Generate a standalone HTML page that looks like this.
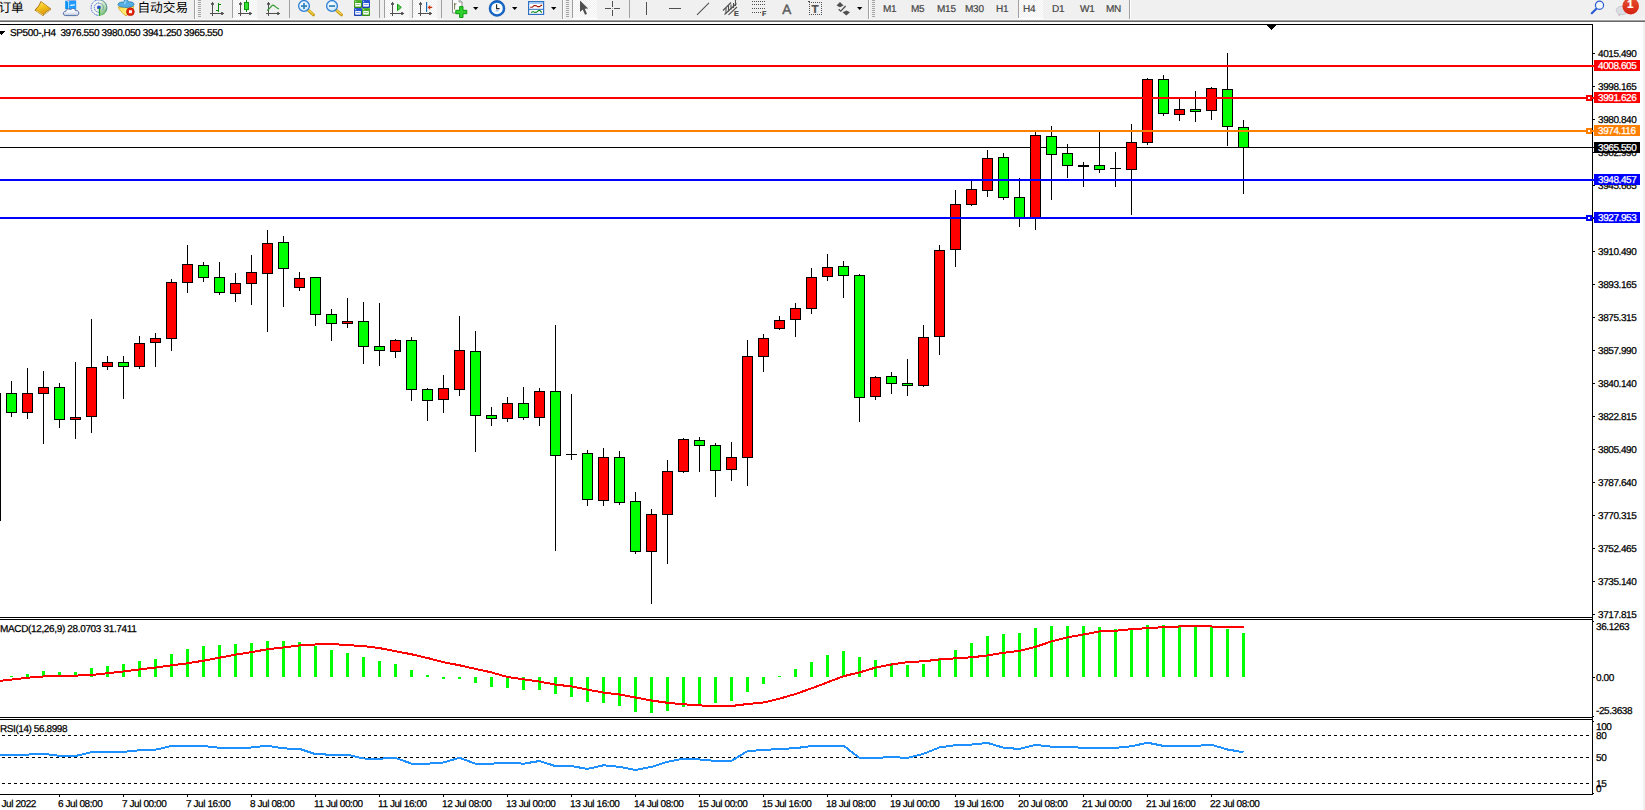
<!DOCTYPE html>
<html lang="zh-CN">
<head>
<meta charset="utf-8">
<title>SP500-,H4</title>
<style>
html,body{margin:0;padding:0;background:#fff;}
body{width:1645px;height:810px;overflow:hidden;position:relative;font-family:"Liberation Sans","Noto Sans CJK SC",sans-serif;}
#app{position:absolute;left:0;top:0;width:1645px;height:810px;overflow:hidden;background:#fff;}
.chart{position:absolute;left:0;top:0;}
.t{position:absolute;font-size:10px;line-height:12px;height:12px;letter-spacing:-0.42px;text-rendering:geometricPrecision;-webkit-text-stroke:0.25px currentColor;color:#000;white-space:nowrap;}
.t.w{color:#fff;}
.bx{position:absolute;left:1594px;width:46px;height:11px;}
#tb{position:absolute;left:0;top:0;width:1645px;height:22px;background:#f0f0f0;overflow:hidden;}
#tb .ln0{position:absolute;left:0;top:19px;width:1645px;height:1px;background:#f7f7f7;}
#tb .ln1{position:absolute;left:0;top:20px;width:1645px;height:1px;background:#a0a0a0;}
#tb .ln2{position:absolute;left:0;top:21px;width:1645px;height:1px;background:#696969;}
#tb .cj{position:absolute;top:0px;font-size:12.7px;text-rendering:geometricPrecision;line-height:17px;color:#000;white-space:nowrap;font-family:"Liberation Sans","Noto Sans CJK SC",sans-serif;}
#tb .tf{position:absolute;top:3px;font-size:10px;line-height:13px;color:#444;white-space:nowrap;letter-spacing:-0.25px;text-rendering:geometricPrecision;-webkit-text-stroke:0.2px currentColor;}
#rs{position:absolute;left:1643px;top:22px;width:2px;height:788px;background:#f0f0f0;}
#tbsvg{position:absolute;left:0;top:0;}
</style>
</head>
<body>
<div id="app">
<svg class="chart" width="1645" height="810" viewBox="0 0 1645 810" shape-rendering="crispEdges">
<rect x="0" y="147" width="1594" height="1" fill="#000"/>
<rect x="0" y="393" width="1" height="128" fill="#000"/>
<rect x="11" y="381" width="1" height="36" fill="#000"/>
<rect x="6" y="393" width="11" height="20" fill="#000"/>
<rect x="7" y="394" width="9" height="18" fill="#0f0"/>
<rect x="27" y="368" width="1" height="51" fill="#000"/>
<rect x="22" y="393" width="11" height="20" fill="#000"/>
<rect x="23" y="394" width="9" height="18" fill="#f00"/>
<rect x="43" y="371" width="1" height="73" fill="#000"/>
<rect x="38" y="387" width="11" height="7" fill="#000"/>
<rect x="39" y="388" width="9" height="5" fill="#f00"/>
<rect x="59" y="383" width="1" height="45" fill="#000"/>
<rect x="54" y="387" width="11" height="33" fill="#000"/>
<rect x="55" y="388" width="9" height="31" fill="#0f0"/>
<rect x="75" y="362" width="1" height="77" fill="#000"/>
<rect x="70" y="417" width="11" height="3" fill="#000"/>
<rect x="71" y="418" width="9" height="1" fill="#f00"/>
<rect x="91" y="319" width="1" height="114" fill="#000"/>
<rect x="86" y="367" width="11" height="50" fill="#000"/>
<rect x="87" y="368" width="9" height="48" fill="#f00"/>
<rect x="107" y="356" width="1" height="14" fill="#000"/>
<rect x="102" y="362" width="11" height="5" fill="#000"/>
<rect x="103" y="363" width="9" height="3" fill="#f00"/>
<rect x="123" y="356" width="1" height="43" fill="#000"/>
<rect x="118" y="362" width="11" height="5" fill="#000"/>
<rect x="119" y="363" width="9" height="3" fill="#0f0"/>
<rect x="139" y="336" width="1" height="33" fill="#000"/>
<rect x="134" y="343" width="11" height="24" fill="#000"/>
<rect x="135" y="344" width="9" height="22" fill="#f00"/>
<rect x="155" y="333" width="1" height="34" fill="#000"/>
<rect x="150" y="338" width="11" height="5" fill="#000"/>
<rect x="151" y="339" width="9" height="3" fill="#f00"/>
<rect x="171" y="279" width="1" height="72" fill="#000"/>
<rect x="166" y="282" width="11" height="57" fill="#000"/>
<rect x="167" y="283" width="9" height="55" fill="#f00"/>
<rect x="187" y="245" width="1" height="48" fill="#000"/>
<rect x="182" y="264" width="11" height="19" fill="#000"/>
<rect x="183" y="265" width="9" height="17" fill="#f00"/>
<rect x="203" y="262" width="1" height="20" fill="#000"/>
<rect x="198" y="265" width="11" height="13" fill="#000"/>
<rect x="199" y="266" width="9" height="11" fill="#0f0"/>
<rect x="219" y="262" width="1" height="33" fill="#000"/>
<rect x="214" y="277" width="11" height="16" fill="#000"/>
<rect x="215" y="278" width="9" height="14" fill="#0f0"/>
<rect x="235" y="273" width="1" height="29" fill="#000"/>
<rect x="230" y="283" width="11" height="11" fill="#000"/>
<rect x="231" y="284" width="9" height="9" fill="#f00"/>
<rect x="251" y="255" width="1" height="50" fill="#000"/>
<rect x="246" y="272" width="11" height="12" fill="#000"/>
<rect x="247" y="273" width="9" height="10" fill="#f00"/>
<rect x="267" y="230" width="1" height="102" fill="#000"/>
<rect x="262" y="243" width="11" height="31" fill="#000"/>
<rect x="263" y="244" width="9" height="29" fill="#f00"/>
<rect x="283" y="236" width="1" height="71" fill="#000"/>
<rect x="278" y="242" width="11" height="27" fill="#000"/>
<rect x="279" y="243" width="9" height="25" fill="#0f0"/>
<rect x="299" y="272" width="1" height="19" fill="#000"/>
<rect x="294" y="278" width="11" height="10" fill="#000"/>
<rect x="295" y="279" width="9" height="8" fill="#f00"/>
<rect x="315" y="277" width="1" height="49" fill="#000"/>
<rect x="310" y="277" width="11" height="38" fill="#000"/>
<rect x="311" y="278" width="9" height="36" fill="#0f0"/>
<rect x="331" y="309" width="1" height="32" fill="#000"/>
<rect x="326" y="314" width="11" height="10" fill="#000"/>
<rect x="327" y="315" width="9" height="8" fill="#0f0"/>
<rect x="347" y="298" width="1" height="30" fill="#000"/>
<rect x="342" y="321" width="11" height="3" fill="#000"/>
<rect x="343" y="322" width="9" height="1" fill="#f00"/>
<rect x="363" y="302" width="1" height="62" fill="#000"/>
<rect x="358" y="321" width="11" height="26" fill="#000"/>
<rect x="359" y="322" width="9" height="24" fill="#0f0"/>
<rect x="379" y="303" width="1" height="63" fill="#000"/>
<rect x="374" y="346" width="11" height="5" fill="#000"/>
<rect x="375" y="347" width="9" height="3" fill="#0f0"/>
<rect x="395" y="339" width="1" height="19" fill="#000"/>
<rect x="390" y="340" width="11" height="12" fill="#000"/>
<rect x="391" y="341" width="9" height="10" fill="#f00"/>
<rect x="411" y="337" width="1" height="64" fill="#000"/>
<rect x="406" y="340" width="11" height="50" fill="#000"/>
<rect x="407" y="341" width="9" height="48" fill="#0f0"/>
<rect x="427" y="388" width="1" height="33" fill="#000"/>
<rect x="422" y="389" width="11" height="12" fill="#000"/>
<rect x="423" y="390" width="9" height="10" fill="#0f0"/>
<rect x="443" y="375" width="1" height="38" fill="#000"/>
<rect x="438" y="388" width="11" height="12" fill="#000"/>
<rect x="439" y="389" width="9" height="10" fill="#f00"/>
<rect x="459" y="316" width="1" height="80" fill="#000"/>
<rect x="454" y="350" width="11" height="40" fill="#000"/>
<rect x="455" y="351" width="9" height="38" fill="#f00"/>
<rect x="475" y="331" width="1" height="121" fill="#000"/>
<rect x="470" y="351" width="11" height="65" fill="#000"/>
<rect x="471" y="352" width="9" height="63" fill="#0f0"/>
<rect x="491" y="407" width="1" height="19" fill="#000"/>
<rect x="486" y="415" width="11" height="4" fill="#000"/>
<rect x="487" y="416" width="9" height="2" fill="#0f0"/>
<rect x="507" y="397" width="1" height="25" fill="#000"/>
<rect x="502" y="403" width="11" height="16" fill="#000"/>
<rect x="503" y="404" width="9" height="14" fill="#f00"/>
<rect x="523" y="387" width="1" height="33" fill="#000"/>
<rect x="518" y="403" width="11" height="15" fill="#000"/>
<rect x="519" y="404" width="9" height="13" fill="#0f0"/>
<rect x="539" y="388" width="1" height="38" fill="#000"/>
<rect x="534" y="391" width="11" height="27" fill="#000"/>
<rect x="535" y="392" width="9" height="25" fill="#f00"/>
<rect x="555" y="325" width="1" height="226" fill="#000"/>
<rect x="550" y="391" width="11" height="65" fill="#000"/>
<rect x="551" y="392" width="9" height="63" fill="#0f0"/>
<rect x="571" y="394" width="1" height="66" fill="#000"/>
<rect x="566" y="454" width="11" height="1" fill="#000"/>
<rect x="587" y="450" width="1" height="56" fill="#000"/>
<rect x="582" y="453" width="11" height="47" fill="#000"/>
<rect x="583" y="454" width="9" height="45" fill="#0f0"/>
<rect x="603" y="448" width="1" height="58" fill="#000"/>
<rect x="598" y="457" width="11" height="44" fill="#000"/>
<rect x="599" y="458" width="9" height="42" fill="#f00"/>
<rect x="619" y="451" width="1" height="54" fill="#000"/>
<rect x="614" y="457" width="11" height="46" fill="#000"/>
<rect x="615" y="458" width="9" height="44" fill="#0f0"/>
<rect x="635" y="492" width="1" height="62" fill="#000"/>
<rect x="630" y="501" width="11" height="51" fill="#000"/>
<rect x="631" y="502" width="9" height="49" fill="#0f0"/>
<rect x="651" y="509" width="1" height="95" fill="#000"/>
<rect x="646" y="514" width="11" height="38" fill="#000"/>
<rect x="647" y="515" width="9" height="36" fill="#f00"/>
<rect x="667" y="460" width="1" height="104" fill="#000"/>
<rect x="662" y="471" width="11" height="44" fill="#000"/>
<rect x="663" y="472" width="9" height="42" fill="#f00"/>
<rect x="683" y="438" width="1" height="35" fill="#000"/>
<rect x="678" y="439" width="11" height="33" fill="#000"/>
<rect x="679" y="440" width="9" height="31" fill="#f00"/>
<rect x="699" y="437" width="1" height="35" fill="#000"/>
<rect x="694" y="440" width="11" height="6" fill="#000"/>
<rect x="695" y="441" width="9" height="4" fill="#0f0"/>
<rect x="715" y="443" width="1" height="54" fill="#000"/>
<rect x="710" y="445" width="11" height="26" fill="#000"/>
<rect x="711" y="446" width="9" height="24" fill="#0f0"/>
<rect x="731" y="442" width="1" height="39" fill="#000"/>
<rect x="726" y="457" width="11" height="13" fill="#000"/>
<rect x="727" y="458" width="9" height="11" fill="#f00"/>
<rect x="747" y="340" width="1" height="146" fill="#000"/>
<rect x="742" y="356" width="11" height="102" fill="#000"/>
<rect x="743" y="357" width="9" height="100" fill="#f00"/>
<rect x="763" y="334" width="1" height="38" fill="#000"/>
<rect x="758" y="338" width="11" height="19" fill="#000"/>
<rect x="759" y="339" width="9" height="17" fill="#f00"/>
<rect x="779" y="316" width="1" height="14" fill="#000"/>
<rect x="774" y="320" width="11" height="9" fill="#000"/>
<rect x="775" y="321" width="9" height="7" fill="#f00"/>
<rect x="795" y="303" width="1" height="34" fill="#000"/>
<rect x="790" y="308" width="11" height="12" fill="#000"/>
<rect x="791" y="309" width="9" height="10" fill="#f00"/>
<rect x="811" y="268" width="1" height="46" fill="#000"/>
<rect x="806" y="277" width="11" height="32" fill="#000"/>
<rect x="807" y="278" width="9" height="30" fill="#f00"/>
<rect x="827" y="254" width="1" height="27" fill="#000"/>
<rect x="822" y="267" width="11" height="10" fill="#000"/>
<rect x="823" y="268" width="9" height="8" fill="#f00"/>
<rect x="843" y="261" width="1" height="37" fill="#000"/>
<rect x="838" y="266" width="11" height="10" fill="#000"/>
<rect x="839" y="267" width="9" height="8" fill="#0f0"/>
<rect x="859" y="274" width="1" height="148" fill="#000"/>
<rect x="854" y="275" width="11" height="123" fill="#000"/>
<rect x="855" y="276" width="9" height="121" fill="#0f0"/>
<rect x="875" y="376" width="1" height="24" fill="#000"/>
<rect x="870" y="377" width="11" height="20" fill="#000"/>
<rect x="871" y="378" width="9" height="18" fill="#f00"/>
<rect x="891" y="372" width="1" height="22" fill="#000"/>
<rect x="886" y="376" width="11" height="8" fill="#000"/>
<rect x="887" y="377" width="9" height="6" fill="#0f0"/>
<rect x="907" y="359" width="1" height="37" fill="#000"/>
<rect x="902" y="383" width="11" height="3" fill="#000"/>
<rect x="903" y="384" width="9" height="1" fill="#0f0"/>
<rect x="923" y="325" width="1" height="62" fill="#000"/>
<rect x="918" y="337" width="11" height="49" fill="#000"/>
<rect x="919" y="338" width="9" height="47" fill="#f00"/>
<rect x="939" y="245" width="1" height="110" fill="#000"/>
<rect x="934" y="250" width="11" height="87" fill="#000"/>
<rect x="935" y="251" width="9" height="85" fill="#f00"/>
<rect x="955" y="190" width="1" height="77" fill="#000"/>
<rect x="950" y="204" width="11" height="46" fill="#000"/>
<rect x="951" y="205" width="9" height="44" fill="#f00"/>
<rect x="971" y="181" width="1" height="25" fill="#000"/>
<rect x="966" y="189" width="11" height="16" fill="#000"/>
<rect x="967" y="190" width="9" height="14" fill="#f00"/>
<rect x="987" y="150" width="1" height="47" fill="#000"/>
<rect x="982" y="158" width="11" height="33" fill="#000"/>
<rect x="983" y="159" width="9" height="31" fill="#f00"/>
<rect x="1003" y="153" width="1" height="47" fill="#000"/>
<rect x="998" y="157" width="11" height="41" fill="#000"/>
<rect x="999" y="158" width="9" height="39" fill="#0f0"/>
<rect x="1019" y="178" width="1" height="49" fill="#000"/>
<rect x="1014" y="197" width="11" height="21" fill="#000"/>
<rect x="1015" y="198" width="9" height="19" fill="#0f0"/>
<rect x="1035" y="132" width="1" height="98" fill="#000"/>
<rect x="1030" y="135" width="11" height="83" fill="#000"/>
<rect x="1031" y="136" width="9" height="81" fill="#f00"/>
<rect x="1051" y="126" width="1" height="74" fill="#000"/>
<rect x="1046" y="136" width="11" height="19" fill="#000"/>
<rect x="1047" y="137" width="9" height="17" fill="#0f0"/>
<rect x="1067" y="144" width="1" height="34" fill="#000"/>
<rect x="1062" y="153" width="11" height="13" fill="#000"/>
<rect x="1063" y="154" width="9" height="11" fill="#0f0"/>
<rect x="1083" y="162" width="1" height="25" fill="#000"/>
<rect x="1078" y="165" width="11" height="2" fill="#000"/>
<rect x="1099" y="131" width="1" height="42" fill="#000"/>
<rect x="1094" y="165" width="11" height="5" fill="#000"/>
<rect x="1095" y="166" width="9" height="3" fill="#0f0"/>
<rect x="1115" y="152" width="1" height="35" fill="#000"/>
<rect x="1110" y="168" width="11" height="1" fill="#000"/>
<rect x="1131" y="124" width="1" height="91" fill="#000"/>
<rect x="1126" y="142" width="11" height="28" fill="#000"/>
<rect x="1127" y="143" width="9" height="26" fill="#f00"/>
<rect x="1147" y="78" width="1" height="67" fill="#000"/>
<rect x="1142" y="79" width="11" height="64" fill="#000"/>
<rect x="1143" y="80" width="9" height="62" fill="#f00"/>
<rect x="1163" y="75" width="1" height="41" fill="#000"/>
<rect x="1158" y="79" width="11" height="35" fill="#000"/>
<rect x="1159" y="80" width="9" height="33" fill="#0f0"/>
<rect x="1179" y="98" width="1" height="23" fill="#000"/>
<rect x="1174" y="109" width="11" height="6" fill="#000"/>
<rect x="1175" y="110" width="9" height="4" fill="#f00"/>
<rect x="1195" y="91" width="1" height="31" fill="#000"/>
<rect x="1190" y="109" width="11" height="3" fill="#000"/>
<rect x="1191" y="110" width="9" height="1" fill="#0f0"/>
<rect x="1211" y="87" width="1" height="33" fill="#000"/>
<rect x="1206" y="88" width="11" height="23" fill="#000"/>
<rect x="1207" y="89" width="9" height="21" fill="#f00"/>
<rect x="1227" y="53" width="1" height="93" fill="#000"/>
<rect x="1222" y="89" width="11" height="38" fill="#000"/>
<rect x="1223" y="90" width="9" height="36" fill="#0f0"/>
<rect x="1243" y="120" width="1" height="74" fill="#000"/>
<rect x="1238" y="127" width="11" height="21" fill="#000"/>
<rect x="1239" y="128" width="9" height="19" fill="#0f0"/>
<rect x="0" y="65" width="1594" height="2" fill="#f00"/>
<rect x="0" y="97" width="1594" height="2" fill="#f00"/>
<rect x="0" y="130" width="1594" height="2" fill="#ff8000"/>
<rect x="0" y="179" width="1594" height="2" fill="#00f"/>
<rect x="0" y="217" width="1594" height="2" fill="#00f"/>
<rect x="0" y="24" width="1593" height="1" fill="#000"/>
<rect x="1592" y="24" width="1" height="771" fill="#000"/>
<rect x="0" y="617" width="1593" height="1" fill="#000"/>
<rect x="0" y="618" width="1592" height="1" fill="#fff"/>
<rect x="0" y="619" width="1593" height="1" fill="#000"/>
<rect x="0" y="717" width="1593" height="1" fill="#000"/>
<rect x="0" y="718" width="1592" height="1" fill="#fff"/>
<rect x="0" y="719" width="1593" height="1" fill="#000"/>
<rect x="0" y="794" width="1593" height="1" fill="#000"/>
<rect x="1586" y="95" width="6" height="6" fill="#f00"/>
<rect x="1588" y="97" width="2" height="2" fill="#fff"/>
<rect x="1586" y="128" width="6" height="6" fill="#ff8000"/>
<rect x="1588" y="130" width="2" height="2" fill="#fff"/>
<rect x="1586" y="215" width="6" height="6" fill="#00f"/>
<rect x="1588" y="217" width="2" height="2" fill="#fff"/>
<rect x="1592" y="65" width="2" height="2" fill="#f00"/>
<rect x="1592" y="97" width="2" height="2" fill="#f00"/>
<rect x="1592" y="130" width="2" height="2" fill="#ff8000"/>
<rect x="1592" y="179" width="2" height="2" fill="#00f"/>
<rect x="1592" y="217" width="2" height="2" fill="#00f"/>
<rect x="1593" y="53" width="2" height="1" fill="#000"/>
<rect x="1593" y="86" width="2" height="1" fill="#000"/>
<rect x="1593" y="119" width="2" height="1" fill="#000"/>
<rect x="1593" y="152" width="2" height="1" fill="#000"/>
<rect x="1593" y="185" width="2" height="1" fill="#000"/>
<rect x="1593" y="218" width="2" height="1" fill="#000"/>
<rect x="1593" y="251" width="2" height="1" fill="#000"/>
<rect x="1593" y="284" width="2" height="1" fill="#000"/>
<rect x="1593" y="317" width="2" height="1" fill="#000"/>
<rect x="1593" y="350" width="2" height="1" fill="#000"/>
<rect x="1593" y="383" width="2" height="1" fill="#000"/>
<rect x="1593" y="416" width="2" height="1" fill="#000"/>
<rect x="1593" y="449" width="2" height="1" fill="#000"/>
<rect x="1593" y="482" width="2" height="1" fill="#000"/>
<rect x="1593" y="515" width="2" height="1" fill="#000"/>
<rect x="1593" y="548" width="2" height="1" fill="#000"/>
<rect x="1593" y="581" width="2" height="1" fill="#000"/>
<rect x="1593" y="614" width="2" height="1" fill="#000"/>
<rect x="1593" y="621" width="1" height="1" fill="#000"/>
<rect x="1593" y="677" width="2" height="1" fill="#000"/>
<rect x="1593" y="716" width="1" height="1" fill="#000"/>
<rect x="1593" y="721" width="1" height="1" fill="#000"/>
<rect x="1593" y="793" width="1" height="1" fill="#000"/>
<polygon points="1266.5,25 1276.5,25 1271.5,30" fill="#000"/>
<polygon points="-2,31 5.6,31 1.8,35" fill="#000"/>
<rect x="10" y="676" width="3" height="1" fill="#0f0"/>
<rect x="26" y="674" width="3" height="3" fill="#0f0"/>
<rect x="42" y="671" width="3" height="6" fill="#0f0"/>
<rect x="58" y="672" width="3" height="5" fill="#0f0"/>
<rect x="74" y="672" width="3" height="5" fill="#0f0"/>
<rect x="90" y="668" width="3" height="9" fill="#0f0"/>
<rect x="106" y="666" width="3" height="11" fill="#0f0"/>
<rect x="122" y="664" width="3" height="13" fill="#0f0"/>
<rect x="138" y="661" width="3" height="16" fill="#0f0"/>
<rect x="154" y="659" width="3" height="18" fill="#0f0"/>
<rect x="170" y="654" width="3" height="23" fill="#0f0"/>
<rect x="186" y="649" width="3" height="28" fill="#0f0"/>
<rect x="202" y="646" width="3" height="31" fill="#0f0"/>
<rect x="218" y="645" width="3" height="32" fill="#0f0"/>
<rect x="234" y="644" width="3" height="33" fill="#0f0"/>
<rect x="250" y="643" width="3" height="34" fill="#0f0"/>
<rect x="266" y="641" width="3" height="36" fill="#0f0"/>
<rect x="282" y="641" width="3" height="36" fill="#0f0"/>
<rect x="298" y="642" width="3" height="35" fill="#0f0"/>
<rect x="314" y="646" width="3" height="31" fill="#0f0"/>
<rect x="330" y="650" width="3" height="27" fill="#0f0"/>
<rect x="346" y="653" width="3" height="24" fill="#0f0"/>
<rect x="362" y="657" width="3" height="20" fill="#0f0"/>
<rect x="378" y="661" width="3" height="16" fill="#0f0"/>
<rect x="394" y="664" width="3" height="13" fill="#0f0"/>
<rect x="410" y="670" width="3" height="7" fill="#0f0"/>
<rect x="426" y="675" width="3" height="2" fill="#0f0"/>
<rect x="442" y="677" width="3" height="2" fill="#0f0"/>
<rect x="458" y="677" width="3" height="2" fill="#0f0"/>
<rect x="474" y="677" width="3" height="6" fill="#0f0"/>
<rect x="490" y="677" width="3" height="10" fill="#0f0"/>
<rect x="506" y="677" width="3" height="11" fill="#0f0"/>
<rect x="522" y="677" width="3" height="13" fill="#0f0"/>
<rect x="538" y="677" width="3" height="13" fill="#0f0"/>
<rect x="554" y="677" width="3" height="17" fill="#0f0"/>
<rect x="570" y="677" width="3" height="20" fill="#0f0"/>
<rect x="586" y="677" width="3" height="25" fill="#0f0"/>
<rect x="602" y="677" width="3" height="26" fill="#0f0"/>
<rect x="618" y="677" width="3" height="29" fill="#0f0"/>
<rect x="634" y="677" width="3" height="35" fill="#0f0"/>
<rect x="650" y="677" width="3" height="36" fill="#0f0"/>
<rect x="666" y="677" width="3" height="34" fill="#0f0"/>
<rect x="682" y="677" width="3" height="30" fill="#0f0"/>
<rect x="698" y="677" width="3" height="27" fill="#0f0"/>
<rect x="714" y="677" width="3" height="26" fill="#0f0"/>
<rect x="730" y="677" width="3" height="24" fill="#0f0"/>
<rect x="746" y="677" width="3" height="15" fill="#0f0"/>
<rect x="762" y="677" width="3" height="7" fill="#0f0"/>
<rect x="778" y="676" width="3" height="1" fill="#0f0"/>
<rect x="794" y="669" width="3" height="8" fill="#0f0"/>
<rect x="810" y="662" width="3" height="15" fill="#0f0"/>
<rect x="826" y="655" width="3" height="22" fill="#0f0"/>
<rect x="842" y="651" width="3" height="26" fill="#0f0"/>
<rect x="858" y="657" width="3" height="20" fill="#0f0"/>
<rect x="874" y="660" width="3" height="17" fill="#0f0"/>
<rect x="890" y="663" width="3" height="14" fill="#0f0"/>
<rect x="906" y="665" width="3" height="12" fill="#0f0"/>
<rect x="922" y="664" width="3" height="13" fill="#0f0"/>
<rect x="938" y="658" width="3" height="19" fill="#0f0"/>
<rect x="954" y="650" width="3" height="27" fill="#0f0"/>
<rect x="970" y="643" width="3" height="34" fill="#0f0"/>
<rect x="986" y="636" width="3" height="41" fill="#0f0"/>
<rect x="1002" y="634" width="3" height="43" fill="#0f0"/>
<rect x="1018" y="633" width="3" height="44" fill="#0f0"/>
<rect x="1034" y="628" width="3" height="49" fill="#0f0"/>
<rect x="1050" y="626" width="3" height="51" fill="#0f0"/>
<rect x="1066" y="626" width="3" height="51" fill="#0f0"/>
<rect x="1082" y="626" width="3" height="51" fill="#0f0"/>
<rect x="1098" y="627" width="3" height="50" fill="#0f0"/>
<rect x="1114" y="629" width="3" height="48" fill="#0f0"/>
<rect x="1130" y="629" width="3" height="48" fill="#0f0"/>
<rect x="1146" y="625" width="3" height="52" fill="#0f0"/>
<rect x="1162" y="625" width="3" height="52" fill="#0f0"/>
<rect x="1178" y="625" width="3" height="52" fill="#0f0"/>
<rect x="1194" y="626" width="3" height="51" fill="#0f0"/>
<rect x="1210" y="626" width="3" height="51" fill="#0f0"/>
<rect x="1226" y="629" width="3" height="48" fill="#0f0"/>
<rect x="1242" y="633" width="3" height="44" fill="#0f0"/>
<polyline points="0,680.8 11.5,679.6 27.5,677.7 43.5,676.5 59.5,675.9 75.5,675.6 91.5,675.0 107.5,673.2 123.5,671.4 139.5,669.4 155.5,667.6 171.5,665.3 187.5,663.3 203.5,660.7 219.5,657.7 235.5,654.6 251.5,652.2 267.5,649.2 283.5,647.4 299.5,645.4 315.5,644.5 331.5,644.0 347.5,645.1 363.5,646.1 379.5,648.1 395.5,651.2 411.5,654.3 427.5,658.0 443.5,662.2 459.5,665.3 475.5,668.9 491.5,672.4 507.5,677.0 523.5,679.3 539.5,681.6 555.5,684.6 571.5,686.4 587.5,689.6 603.5,692.6 619.5,694.5 635.5,697.5 651.5,700.5 667.5,702.8 683.5,704.3 699.5,705.4 715.5,706.0 731.5,706.0 747.5,704.0 763.5,702.5 779.5,698.7 795.5,694.0 811.5,688.4 827.5,682.3 843.5,676.2 859.5,672.4 875.5,667.6 891.5,664.5 907.5,662.1 923.5,661.3 939.5,659.5 955.5,658.3 971.5,657.3 987.5,655.5 1003.5,652.8 1019.5,650.9 1035.5,646.9 1051.5,641.4 1067.5,637.4 1083.5,634.5 1099.5,631.4 1115.5,630.7 1131.5,629.2 1147.5,628.1 1163.5,627.2 1179.5,626.5 1195.5,626.1 1211.5,626.5 1227.5,627.0 1243.5,627.0" fill="none" stroke="#f00" stroke-width="2"/>
<line x1="2" y1="735.5" x2="1590" y2="735.5" stroke="#000" stroke-width="1" stroke-dasharray="3 3"/>
<line x1="2" y1="757.5" x2="1590" y2="757.5" stroke="#000" stroke-width="1" stroke-dasharray="3 3"/>
<line x1="2" y1="783.5" x2="1590" y2="783.5" stroke="#000" stroke-width="1" stroke-dasharray="3 3"/>
<polyline points="0,754.7 11.5,754.7 27.5,754.6 43.5,753.8 59.5,755.8 75.5,756.0 91.5,752.2 107.5,751.9 123.5,751.9 139.5,750.3 155.5,749.7 171.5,746.0 187.5,745.7 203.5,746.0 219.5,747.8 235.5,747.8 251.5,747.5 267.5,745.7 283.5,748.4 299.5,748.9 315.5,754.2 331.5,754.7 347.5,754.7 363.5,758.5 379.5,758.7 395.5,757.9 411.5,763.6 427.5,763.7 443.5,762.5 459.5,757.7 475.5,763.7 491.5,763.7 507.5,762.6 523.5,763.7 539.5,761.0 555.5,766.1 571.5,766.1 587.5,768.9 603.5,765.3 619.5,766.9 635.5,770.0 651.5,766.9 667.5,761.8 683.5,758.7 699.5,759.5 715.5,760.9 731.5,760.9 747.5,751.1 763.5,750.0 779.5,749.0 795.5,748.2 811.5,746.0 827.5,745.7 843.5,745.7 859.5,757.9 875.5,757.9 891.5,757.1 907.5,757.9 923.5,753.8 939.5,747.4 955.5,745.2 971.5,744.6 987.5,742.9 1003.5,747.7 1019.5,749.0 1035.5,744.8 1051.5,746.7 1067.5,746.8 1083.5,747.9 1099.5,747.9 1115.5,747.9 1131.5,746.3 1147.5,742.7 1163.5,745.9 1179.5,745.9 1195.5,745.9 1211.5,744.8 1227.5,749.5 1243.5,752.2" fill="none" stroke="#1e90ff" stroke-width="2"/>
<rect x="59" y="795" width="1" height="2" fill="#000"/>
<rect x="123" y="795" width="1" height="2" fill="#000"/>
<rect x="187" y="795" width="1" height="2" fill="#000"/>
<rect x="251" y="795" width="1" height="2" fill="#000"/>
<rect x="315" y="795" width="1" height="2" fill="#000"/>
<rect x="379" y="795" width="1" height="2" fill="#000"/>
<rect x="443" y="795" width="1" height="2" fill="#000"/>
<rect x="507" y="795" width="1" height="2" fill="#000"/>
<rect x="571" y="795" width="1" height="2" fill="#000"/>
<rect x="635" y="795" width="1" height="2" fill="#000"/>
<rect x="699" y="795" width="1" height="2" fill="#000"/>
<rect x="763" y="795" width="1" height="2" fill="#000"/>
<rect x="827" y="795" width="1" height="2" fill="#000"/>
<rect x="891" y="795" width="1" height="2" fill="#000"/>
<rect x="955" y="795" width="1" height="2" fill="#000"/>
<rect x="1019" y="795" width="1" height="2" fill="#000"/>
<rect x="1083" y="795" width="1" height="2" fill="#000"/>
<rect x="1147" y="795" width="1" height="2" fill="#000"/>
<rect x="1211" y="795" width="1" height="2" fill="#000"/>
</svg>
<div class="t" style="left:1598px;top:49px">4015.490</div>
<div class="t" style="left:1598px;top:82px">3998.165</div>
<div class="t" style="left:1598px;top:115px">3980.840</div>
<div class="t" style="left:1598px;top:148px">3962.990</div>
<div class="t" style="left:1598px;top:181px">3945.665</div>
<div class="t" style="left:1598px;top:214px">3927.815</div>
<div class="t" style="left:1598px;top:247px">3910.490</div>
<div class="t" style="left:1598px;top:280px">3893.165</div>
<div class="t" style="left:1598px;top:313px">3875.315</div>
<div class="t" style="left:1598px;top:346px">3857.990</div>
<div class="t" style="left:1598px;top:379px">3840.140</div>
<div class="t" style="left:1598px;top:412px">3822.815</div>
<div class="t" style="left:1598px;top:445px">3805.490</div>
<div class="t" style="left:1598px;top:478px">3787.640</div>
<div class="t" style="left:1598px;top:511px">3770.315</div>
<div class="t" style="left:1598px;top:544px">3752.465</div>
<div class="t" style="left:1598px;top:577px">3735.140</div>
<div class="t" style="left:1598px;top:610px">3717.815</div>
<div class="bx" style="top:60px;background:#f00"></div>
<div class="t w" style="left:1598px;top:61px">4008.605</div>
<div class="bx" style="top:92px;background:#f00"></div>
<div class="t w" style="left:1598px;top:93px">3991.626</div>
<div class="bx" style="top:125px;background:#ff8000"></div>
<div class="t w" style="left:1598px;top:126px">3974.116</div>
<div class="bx" style="top:142px;background:#000"></div>
<div class="t w" style="left:1598px;top:143px">3965.550</div>
<div class="bx" style="top:174px;background:#00f"></div>
<div class="t w" style="left:1598px;top:175px">3948.457</div>
<div class="bx" style="top:212px;background:#00f"></div>
<div class="t w" style="left:1598px;top:213px">3927.953</div>
<div class="t" style="left:1596px;top:622px">36.1263</div>
<div class="t" style="left:1596px;top:673px">0.00</div>
<div class="t" style="left:1596px;top:706px">-25.3638</div>
<div class="t" style="left:1596px;top:722px">100</div>
<div class="t" style="left:1596px;top:731px">80</div>
<div class="t" style="left:1596px;top:753px">50</div>
<div class="t" style="left:1596px;top:779px">15</div>
<div class="t" style="left:1596px;top:784px">0</div>
<div class="t" style="left:10px;top:28px;letter-spacing:-0.37px">SP500-,H4&nbsp; 3976.550 3980.050 3941.250 3965.550</div>
<div class="t" style="left:0px;top:624px;letter-spacing:-0.35px">MACD(12,26,9) 28.0703 31.7411</div>
<div class="t" style="left:0px;top:724px">RSI(14) 56.8998</div>
<div class="t" style="left:-6px;top:799px">5 Jul 2022</div>
<div class="t" style="left:58px;top:799px">6 Jul 08:00</div>
<div class="t" style="left:122px;top:799px">7 Jul 00:00</div>
<div class="t" style="left:186px;top:799px">7 Jul 16:00</div>
<div class="t" style="left:250px;top:799px">8 Jul 08:00</div>
<div class="t" style="left:314px;top:799px">11 Jul 00:00</div>
<div class="t" style="left:378px;top:799px">11 Jul 16:00</div>
<div class="t" style="left:442px;top:799px">12 Jul 08:00</div>
<div class="t" style="left:506px;top:799px">13 Jul 00:00</div>
<div class="t" style="left:570px;top:799px">13 Jul 16:00</div>
<div class="t" style="left:634px;top:799px">14 Jul 08:00</div>
<div class="t" style="left:698px;top:799px">15 Jul 00:00</div>
<div class="t" style="left:762px;top:799px">15 Jul 16:00</div>
<div class="t" style="left:826px;top:799px">18 Jul 08:00</div>
<div class="t" style="left:890px;top:799px">19 Jul 00:00</div>
<div class="t" style="left:954px;top:799px">19 Jul 16:00</div>
<div class="t" style="left:1018px;top:799px">20 Jul 08:00</div>
<div class="t" style="left:1082px;top:799px">21 Jul 00:00</div>
<div class="t" style="left:1146px;top:799px">21 Jul 16:00</div>
<div class="t" style="left:1210px;top:799px">22 Jul 08:00</div>
<div id="rs"></div>
<div id="tb">
<svg id="tbsvg" width="1645" height="22" viewBox="0 0 1645 22"><defs><linearGradient id="gGold" x1="0.2" y1="0" x2="0.6" y2="1"><stop offset="0" stop-color="#ffe469"/><stop offset="0.45" stop-color="#f4c31c"/><stop offset="1" stop-color="#d99a10"/></linearGradient><linearGradient id="gBlue" x1="0" y1="0" x2="0" y2="1"><stop offset="0" stop-color="#3aa0ff"/><stop offset="1" stop-color="#0a5fd8"/></linearGradient><linearGradient id="gGreen" x1="0" y1="0" x2="0" y2="1"><stop offset="0" stop-color="#52b52a"/><stop offset="1" stop-color="#2f8c0f"/></linearGradient><linearGradient id="gBlue2" x1="0" y1="0" x2="0" y2="1"><stop offset="0" stop-color="#2a55d8"/><stop offset="1" stop-color="#1a3fb0"/></linearGradient><linearGradient id="gRed" x1="0" y1="0" x2="0" y2="1"><stop offset="0" stop-color="#e8502e"/><stop offset="1" stop-color="#d42010"/></linearGradient><radialGradient id="gLens" cx="0.4" cy="0.35" r="0.7"><stop offset="0" stop-color="#ffffff"/><stop offset="1" stop-color="#bfe3fb"/></radialGradient><pattern id="chk" width="2" height="2" patternUnits="userSpaceOnUse"><rect width="2" height="2" fill="#f0f0f0"/><rect width="1" height="1" fill="#fff"/><rect x="1" y="1" width="1" height="1" fill="#fff"/></pattern></defs><g shape-rendering="crispEdges"><rect x="194" y="0" width="1" height="20" fill="#a0a0a0"/><rect x="195" y="0" width="1" height="20" fill="#fff"/><rect x="562" y="0" width="1" height="20" fill="#a0a0a0"/><rect x="563" y="0" width="1" height="20" fill="#fff"/><rect x="868" y="0" width="1" height="20" fill="#a0a0a0"/><rect x="869" y="0" width="1" height="20" fill="#fff"/><rect x="1129" y="0" width="1" height="20" fill="#a0a0a0"/><rect x="1130" y="0" width="1" height="20" fill="#fff"/><rect x="198" y="0" width="3" height="1" fill="#a6a6a6"/><rect x="198" y="2" width="3" height="1" fill="#a6a6a6"/><rect x="198" y="4" width="3" height="1" fill="#a6a6a6"/><rect x="198" y="6" width="3" height="1" fill="#a6a6a6"/><rect x="198" y="8" width="3" height="1" fill="#a6a6a6"/><rect x="198" y="10" width="3" height="1" fill="#a6a6a6"/><rect x="198" y="12" width="3" height="1" fill="#a6a6a6"/><rect x="198" y="14" width="3" height="1" fill="#a6a6a6"/><rect x="198" y="16" width="3" height="1" fill="#a6a6a6"/><rect x="566" y="0" width="3" height="1" fill="#a6a6a6"/><rect x="566" y="2" width="3" height="1" fill="#a6a6a6"/><rect x="566" y="4" width="3" height="1" fill="#a6a6a6"/><rect x="566" y="6" width="3" height="1" fill="#a6a6a6"/><rect x="566" y="8" width="3" height="1" fill="#a6a6a6"/><rect x="566" y="10" width="3" height="1" fill="#a6a6a6"/><rect x="566" y="12" width="3" height="1" fill="#a6a6a6"/><rect x="566" y="14" width="3" height="1" fill="#a6a6a6"/><rect x="566" y="16" width="3" height="1" fill="#a6a6a6"/><rect x="872" y="0" width="3" height="1" fill="#a6a6a6"/><rect x="872" y="2" width="3" height="1" fill="#a6a6a6"/><rect x="872" y="4" width="3" height="1" fill="#a6a6a6"/><rect x="872" y="6" width="3" height="1" fill="#a6a6a6"/><rect x="872" y="8" width="3" height="1" fill="#a6a6a6"/><rect x="872" y="10" width="3" height="1" fill="#a6a6a6"/><rect x="872" y="12" width="3" height="1" fill="#a6a6a6"/><rect x="872" y="14" width="3" height="1" fill="#a6a6a6"/><rect x="872" y="16" width="3" height="1" fill="#a6a6a6"/><rect x="232" y="0" width="1" height="18" fill="#a0a0a0"/><rect x="289" y="0" width="1" height="18" fill="#a0a0a0"/><rect x="379" y="0" width="1" height="18" fill="#a0a0a0"/><rect x="384" y="0" width="1" height="18" fill="#a0a0a0"/><rect x="412" y="0" width="1" height="18" fill="#a0a0a0"/><rect x="441" y="0" width="1" height="18" fill="#a0a0a0"/><rect x="629" y="0" width="1" height="18" fill="#a0a0a0"/><rect x="233" y="0" width="24" height="18" fill="url(#chk)"/><rect x="385" y="0" width="24" height="18" fill="url(#chk)"/><rect x="413" y="0" width="24" height="18" fill="url(#chk)"/><rect x="573" y="0" width="24" height="18" fill="url(#chk)"/><rect x="1019" y="0" width="24" height="18" fill="url(#chk)"/><rect x="572" y="0" width="1" height="18" fill="#a0a0a0"/><rect x="1018" y="0" width="1" height="18" fill="#a0a0a0"/><rect x="232" y="18" width="26" height="1" fill="#fff"/><rect x="384" y="18" width="26" height="1" fill="#fff"/><rect x="412" y="18" width="26" height="1" fill="#fff"/><rect x="572" y="18" width="26" height="1" fill="#fff"/><rect x="1018" y="18" width="26" height="1" fill="#fff"/></g><g fill="#505050" shape-rendering="crispEdges"><rect x="212" y="2" width="1" height="14" fill="#505050"/><rect x="211" y="3" width="3" height="2" fill="#6a6a6a"/><rect x="212" y="3" width="1" height="2" fill="#505050"/><rect x="210" y="13" width="14" height="1" fill="#505050"/><rect x="221" y="12" width="2" height="3" fill="#6a6a6a"/><rect x="221" y="13" width="3" height="1" fill="#505050"/></g><g fill="#0a8a0a" shape-rendering="crispEdges"><rect x="218" y="3" width="1" height="9" fill="#0a8a0a"/><rect x="219" y="4" width="2" height="1" fill="#0a8a0a"/><rect x="216" y="10" width="2" height="1" fill="#0a8a0a"/></g><g fill="#505050" shape-rendering="crispEdges"><rect x="240" y="2" width="1" height="14" fill="#505050"/><rect x="239" y="3" width="3" height="2" fill="#6a6a6a"/><rect x="240" y="3" width="1" height="2" fill="#505050"/><rect x="238" y="13" width="14" height="1" fill="#505050"/><rect x="249" y="12" width="2" height="3" fill="#6a6a6a"/><rect x="249" y="13" width="3" height="1" fill="#505050"/></g><g shape-rendering="crispEdges"><rect x="246" y="0" width="1" height="12" fill="#0a8a0a"/><rect x="244" y="2" width="5" height="8" fill="#0a9a0a"/><rect x="245" y="3" width="3" height="6" fill="#33e033"/></g><g fill="#505050" shape-rendering="crispEdges"><rect x="268" y="2" width="1" height="14" fill="#505050"/><rect x="267" y="3" width="3" height="2" fill="#6a6a6a"/><rect x="268" y="3" width="1" height="2" fill="#505050"/><rect x="266" y="13" width="14" height="1" fill="#505050"/><rect x="277" y="12" width="2" height="3" fill="#6a6a6a"/><rect x="277" y="13" width="3" height="1" fill="#505050"/></g><path d="M267,10.5 C270,9 271.5,5 273,5.2 C275,5.5 276.5,8.5 279,9" fill="none" stroke="#2e9a2e" stroke-width="1.2"/><path d="M308.2,10.2 L313.5,14.8" stroke="#c79a12" stroke-width="3" stroke-linecap="round"/><path d="M308.6,10.2 L313.2,14.2" stroke="#f3d44a" stroke-width="1.2" stroke-linecap="round"/><circle cx="304" cy="6" r="5.4" fill="url(#gLens)" stroke="#2f7fd6" stroke-width="1.3"/><rect x="301" y="5.2" width="6" height="1.7" fill="#2f80b8"/><rect x="303.15" y="3" width="1.7" height="6" fill="#2f80b8"/><path d="M336.2,10.2 L341.5,14.8" stroke="#c79a12" stroke-width="3" stroke-linecap="round"/><path d="M336.6,10.2 L341.2,14.2" stroke="#f3d44a" stroke-width="1.2" stroke-linecap="round"/><circle cx="332" cy="6" r="5.4" fill="url(#gLens)" stroke="#2f7fd6" stroke-width="1.3"/><rect x="329" y="5.2" width="6" height="1.7" fill="#2f80b8"/><rect x="354" y="0" width="8" height="8" rx="0.8" fill="url(#gGreen)"/><rect x="355.2" y="3" width="5.6" height="3.6" fill="#fff"/><rect x="356.2" y="4" width="3.6" height="0.9" fill="#7cc85e"/><rect x="355.2" y="1.2" width="1" height="1" fill="#dfe"/><rect x="362" y="0" width="8" height="8" rx="0.8" fill="url(#gBlue2)"/><rect x="363.2" y="3" width="5.6" height="3.6" fill="#fff"/><rect x="364.2" y="4" width="3.6" height="0.9" fill="#6f8ff0"/><rect x="363.2" y="1.2" width="1" height="1" fill="#dfe"/><rect x="354" y="8" width="8" height="8" rx="0.8" fill="url(#gBlue2)"/><rect x="355.2" y="11" width="5.6" height="3.6" fill="#fff"/><rect x="356.2" y="12" width="3.6" height="0.9" fill="#6f8ff0"/><rect x="355.2" y="9.2" width="1" height="1" fill="#dfe"/><rect x="362" y="8" width="8" height="8" rx="0.8" fill="url(#gGreen)"/><rect x="363.2" y="11" width="5.6" height="3.6" fill="#fff"/><rect x="364.2" y="12" width="3.6" height="0.9" fill="#7cc85e"/><rect x="363.2" y="9.2" width="1" height="1" fill="#dfe"/><g fill="#505050" shape-rendering="crispEdges"><rect x="392" y="2" width="1" height="14" fill="#505050"/><rect x="391" y="3" width="3" height="2" fill="#6a6a6a"/><rect x="392" y="3" width="1" height="2" fill="#505050"/><rect x="390" y="13" width="14" height="1" fill="#505050"/><rect x="401" y="12" width="2" height="3" fill="#6a6a6a"/><rect x="401" y="13" width="3" height="1" fill="#505050"/></g><path d="M397.5,4.2 L401.3,7.4 L397.5,10.6 Z" fill="#5fd05f" stroke="#0a9a0a" stroke-width="1"/><g fill="#505050" shape-rendering="crispEdges"><rect x="420" y="2" width="1" height="14" fill="#505050"/><rect x="419" y="3" width="3" height="2" fill="#6a6a6a"/><rect x="420" y="3" width="1" height="2" fill="#505050"/><rect x="418" y="13" width="14" height="1" fill="#505050"/><rect x="429" y="12" width="2" height="3" fill="#6a6a6a"/><rect x="429" y="13" width="3" height="1" fill="#505050"/></g><rect x="426" y="2" width="1.2" height="10" fill="#1a6fb8"/><path d="M427.6,7.4 L430.2,5 L430.2,6.8 L432.2,6.8 L432.2,8 L430.2,8 L430.2,9.8 Z" fill="#c8320a"/><path d="M452.5,-1 L459,-1 L462,2 L462,13 L452.5,13 Z" fill="#fdfdfd" stroke="#8a8a8a" stroke-width="1"/><path d="M459,-1 L459,2 L462,2" fill="#e6e6e6" stroke="#8a8a8a" stroke-width="0.8"/><path d="M454.6,3 L454.6,9.5 M454.6,4.5 L456.5,3.8" stroke="#6a6a3a" stroke-width="0.9" fill="none"/><path d="M459.6,6.6 L463,6.6 L463,10.3 L466.8,10.3 L466.8,13.7 L463,13.7 L463,17.5 L459.6,17.5 L459.6,13.7 L455.8,13.7 L455.8,10.3 L459.6,10.3 Z" fill="#2fd22f" stroke="#0f9a0f" stroke-width="1"/><path d="M473,7 L478.4,7 L475.7,10 Z" fill="#000"/><path d="M512,7 L517.4,7 L514.7,10 Z" fill="#000"/><path d="M551,7 L556.4,7 L553.7,10 Z" fill="#000"/><path d="M857,7 L862.4,7 L859.7,10 Z" fill="#000"/><circle cx="497" cy="8.4" r="6.9" fill="#fbfdff" stroke="#1668c9" stroke-width="2.3"/><circle cx="497" cy="8.4" r="7.9" fill="none" stroke="#0c4fa8" stroke-width="0.6"/><path d="M496.6,4.2 L496.6,8.6 L499.6,8.6" fill="none" stroke="#222" stroke-width="1.1"/><path d="M495.6,10.8 L498.6,10.8" stroke="#6aa5ee" stroke-width="0.9"/><rect x="528.6" y="1.6" width="15" height="12.8" fill="#fff" stroke="#2f6fc4" stroke-width="1.2"/><rect x="529.2" y="2.2" width="13.8" height="1.6" fill="#8fc0f2"/><path d="M529,9.3 L543.4,9.3" stroke="#2f6fc4" stroke-width="1"/><path d="M530.2,7.3 L532.2,7.3 L534,5.6 L536,5.6 L537.6,6.6 L539.6,6.6 L541.2,5.4 L542.2,5.4" fill="none" stroke="#a01a0a" stroke-width="1.1"/><path d="M531,12.4 L533,11.5 L534.8,12.4 L536.6,12.2 L538.8,10.3 L540,10.6 L541.8,12.6" fill="none" stroke="#0f8a1a" stroke-width="1.1"/><path d="M580,0.6 L580,12 L582.7,9.5 L585,14.8 L587,13.9 L584.8,8.8 L588.2,8.6 Z" fill="#505050"/><g shape-rendering="crispEdges"><rect x="612" y="1" width="1" height="6" fill="#505050"/><rect x="612" y="10" width="1" height="6" fill="#505050"/><rect x="605" y="8" width="6" height="1" fill="#505050"/><rect x="614" y="8" width="6" height="1" fill="#505050"/><rect x="612" y="8" width="1" height="1" fill="#9a9a9a"/><rect x="646" y="2" width="1" height="13" fill="#505050"/><rect x="669" y="8" width="12" height="1" fill="#505050"/></g><path d="M697,14.8 L709,2.8" stroke="#505050" stroke-width="1.1"/><g stroke="#505050" stroke-width="1.1" fill="none"><path d="M723,10.5 L731,2.5 M724.5,14.5 L736.5,3.5 M728.5,14.8 L737,7"/><path d="M726,8 L726,13.5 M728.5,5.5 L728.5,11.5 M731,4.5 L731,9.5 M733.5,3 L733.5,8 M735.5,0 L735.5,6"/></g><g shape-rendering="crispEdges"><rect x="752" y="1" width="1" height="1" fill="#505050"/><rect x="754" y="1" width="1" height="1" fill="#505050"/><rect x="756" y="1" width="1" height="1" fill="#505050"/><rect x="758" y="1" width="1" height="1" fill="#505050"/><rect x="760" y="1" width="1" height="1" fill="#505050"/><rect x="762" y="1" width="1" height="1" fill="#505050"/><rect x="764" y="1" width="1" height="1" fill="#505050"/><rect x="752" y="4" width="1" height="1" fill="#505050"/><rect x="754" y="4" width="1" height="1" fill="#505050"/><rect x="756" y="4" width="1" height="1" fill="#505050"/><rect x="758" y="4" width="1" height="1" fill="#505050"/><rect x="760" y="4" width="1" height="1" fill="#505050"/><rect x="762" y="4" width="1" height="1" fill="#505050"/><rect x="764" y="4" width="1" height="1" fill="#505050"/><rect x="752" y="8" width="1" height="1" fill="#505050"/><rect x="754" y="8" width="1" height="1" fill="#505050"/><rect x="756" y="8" width="1" height="1" fill="#505050"/><rect x="758" y="8" width="1" height="1" fill="#505050"/><rect x="760" y="8" width="1" height="1" fill="#505050"/><rect x="762" y="8" width="1" height="1" fill="#505050"/><rect x="764" y="8" width="1" height="1" fill="#505050"/><rect x="752" y="12" width="1" height="1" fill="#505050"/><rect x="754" y="12" width="1" height="1" fill="#505050"/><rect x="756" y="12" width="1" height="1" fill="#505050"/><rect x="758" y="12" width="1" height="1" fill="#505050"/><rect x="760" y="12" width="1" height="1" fill="#505050"/></g><g shape-rendering="crispEdges"><rect x="809" y="2" width="1" height="1" fill="#505050"/><rect x="809" y="14" width="1" height="1" fill="#505050"/><rect x="811" y="2" width="1" height="1" fill="#505050"/><rect x="811" y="14" width="1" height="1" fill="#505050"/><rect x="813" y="2" width="1" height="1" fill="#505050"/><rect x="813" y="14" width="1" height="1" fill="#505050"/><rect x="815" y="2" width="1" height="1" fill="#505050"/><rect x="815" y="14" width="1" height="1" fill="#505050"/><rect x="817" y="2" width="1" height="1" fill="#505050"/><rect x="817" y="14" width="1" height="1" fill="#505050"/><rect x="819" y="2" width="1" height="1" fill="#505050"/><rect x="819" y="14" width="1" height="1" fill="#505050"/><rect x="821" y="2" width="1" height="1" fill="#505050"/><rect x="821" y="14" width="1" height="1" fill="#505050"/><rect x="809" y="2" width="1" height="1" fill="#505050"/><rect x="821" y="2" width="1" height="1" fill="#505050"/><rect x="809" y="4" width="1" height="1" fill="#505050"/><rect x="821" y="4" width="1" height="1" fill="#505050"/><rect x="809" y="6" width="1" height="1" fill="#505050"/><rect x="821" y="6" width="1" height="1" fill="#505050"/><rect x="809" y="8" width="1" height="1" fill="#505050"/><rect x="821" y="8" width="1" height="1" fill="#505050"/><rect x="809" y="10" width="1" height="1" fill="#505050"/><rect x="821" y="10" width="1" height="1" fill="#505050"/><rect x="809" y="12" width="1" height="1" fill="#505050"/><rect x="821" y="12" width="1" height="1" fill="#505050"/><rect x="809" y="14" width="1" height="1" fill="#505050"/><rect x="821" y="14" width="1" height="1" fill="#505050"/><rect x="808" y="1" width="2" height="1" fill="#505050"/></g><path d="M836.5,5.4 L840,1.9 L843.5,5.4 L840,7.2 Z" fill="#505050"/><path d="M842.5,12.3 L846.5,10.4 L850,12.3 L846.3,15.4 Z" fill="#505050"/><path d="M838.6,9.2 L840.8,11.2 L845.6,6" fill="none" stroke="#505050" stroke-width="1.3"/><path d="M40.8,1.1 L50.9,8.6 L50.9,9.8 L42.9,16 L34.9,10.6 L35,9.6 Q39,6 40.8,1.1 Z" fill="#a9700e"/><path d="M41.2,2 L50,8.6 L43,14.2 L36,9.7 Q39.6,6.2 41.2,2 Z" fill="url(#gGold)"/><path d="M36.2,10.6 L43,14.9" fill="none" stroke="#f6d978" stroke-width="1"/><path d="M43.8,14.6 L50.2,9.5" fill="none" stroke="#e6dca6" stroke-width="0.9"/><path d="M66.2,0.6 L67.6,-1 L74,-1 L76.2,0.8 Z" fill="#7a86d8"/><path d="M65.2,0.4 L68.6,2 L68.6,9.4 L65.2,9 Z" fill="#0a92f2"/><path d="M68.6,1 L76.2,0.8 L76.2,9.4 L68.6,9.4 Z" fill="#1e9cff"/><path d="M68.6,1.2 L68.6,9.4" stroke="#d8f0ff" stroke-width="0.7"/><path d="M70.2,5.4 L74.8,4.9" stroke="#f4fbff" stroke-width="1.1"/><defs><linearGradient id="gCloud" x1="0" y1="0" x2="0" y2="1"><stop offset="0" stop-color="#ffffff"/><stop offset="0.55" stop-color="#eef1f8"/><stop offset="1" stop-color="#b4bfd8"/></linearGradient></defs><path d="M65.6,15.6 C62.4,15.6 62.6,11.2 66,11.2 C66,8.8 69.6,8.2 70.6,10 C71.6,7.6 75.4,8.2 75.4,10.6 C79.4,9.6 80.2,15.6 76.4,15.6 Z" fill="url(#gCloud)" stroke="#45649e" stroke-width="0.9"/><defs><linearGradient id="gSweep" x1="0.3" y1="0" x2="0.8" y2="1"><stop offset="0" stop-color="#e4efe0"/><stop offset="0.6" stop-color="#a8d4a4"/><stop offset="1" stop-color="#2f9a32"/></linearGradient></defs><circle cx="98.9" cy="7.6" r="8" fill="#f3f4f0"/><path d="M98.9,7.6 L98.9,15.8 A8.1,8.1 0 0 0 103,0.6 Z" fill="url(#gSweep)"/><g fill="none" stroke="#3f68d6" stroke-width="1"><path d="M98.9,3 A4.6,4.6 0 0 0 98.9,12.2" stroke-dasharray="1.4 0.7"/><path d="M98.9,-0.2 A7.8,7.8 0 0 0 98.9,15.4" stroke-dasharray="1.6 0.8"/></g><g fill="none" stroke="#5b8fa0" stroke-width="0.9" opacity="0.8"><path d="M98.9,3 A4.6,4.6 0 0 1 102.4,10.6"/><path d="M98.9,-0.2 A7.8,7.8 0 0 1 105.8,11.4" stroke="#2f6f8f"/></g><circle cx="98.9" cy="7.4" r="1.9" fill="#2a52cc"/><rect x="98.9" y="8" width="1.3" height="7.9" fill="#1fa024"/><defs><linearGradient id="gCone" x1="0" y1="0" x2="1" y2="1"><stop offset="0" stop-color="#ffd84a"/><stop offset="0.6" stop-color="#fff07a"/><stop offset="1" stop-color="#f2c21c"/></linearGradient></defs><path d="M118.2,7 L133.8,6.4 C133.4,9 129.5,13.4 126,15.8 C122,13 119,9.6 118.2,7 Z" fill="url(#gCone)" stroke="#d8a010" stroke-width="0.8"/><path d="M118,4.6 C118,2.4 122,1.8 123.6,2.2 C124.2,0.6 125,-1 126,-1 C127,-1 127.8,0.6 128.6,2 C130.4,1.4 134.2,2.2 134,4.4 C133.6,6.8 129,7.6 126,7.4 C122.6,7.4 118.2,6.8 118,4.6 Z" fill="#56ade4" stroke="#237fb0" stroke-width="0.8"/><path d="M123.6,3.2 C124.6,1.2 125.4,0.2 126.2,0.2 C126.6,1.6 126,3.4 124.6,4.4 Z" fill="#9ad4f4" opacity="0.8"/><circle cx="130.4" cy="11.7" r="3.9" fill="#e62408" stroke="#b41a04" stroke-width="0.7"/><rect x="128.95" y="10.25" width="2.95" height="2.9" fill="#fff"/><path d="M1596.4,8.8 L1591.8,13.2" stroke="#2a5bd0" stroke-width="2.2" stroke-linecap="round"/><circle cx="1599.5" cy="5.3" r="4.1" fill="#f4f6ff" stroke="#2a5bd0" stroke-width="1.2"/><path d="M1617.5,14 L1619.2,16.6 L1621.5,14.2 Z" fill="#c8c8cc"/><ellipse cx="1622" cy="10.4" rx="5.8" ry="4.2" fill="#dcdde4" stroke="#c2c3c8" stroke-width="0.8"/><circle cx="1630.7" cy="6.2" r="8.3" fill="url(#gRed)"/></svg>
<div class="cj" style="left:-1.6px">订单</div>
<div class="cj" style="left:137.4px">自动交易</div>
<div class="tf" style="left:883px">M1</div>
<div class="tf" style="left:911px">M5</div>
<div class="tf" style="left:937px">M15</div>
<div class="tf" style="left:965px">M30</div>
<div class="tf" style="left:996px">H1</div>
<div class="tf" style="left:1023px">H4</div>
<div class="tf" style="left:1052px">D1</div>
<div class="tf" style="left:1080px">W1</div>
<div class="tf" style="left:1106px">MN</div>
<div class="tf" style="left:782.2px;top:2px;font-size:13.5px;line-height:15px;color:#5a5a5a;-webkit-text-stroke:0.45px #5a5a5a">A</div>
<div class="tf" style="left:811.4px;top:4px;font-size:11.5px;line-height:13px;color:#505050;font-weight:bold">T</div>
<div class="tf" style="left:734px;top:11.4px;font-size:7px;line-height:8px;color:#404040;font-weight:bold">E</div>
<div class="tf" style="left:762px;top:11.4px;font-size:7px;line-height:8px;color:#404040;font-weight:bold">F</div>
<div class="tf" style="left:1627px;top:-1px;font-size:11.5px;line-height:13px;color:#fff;font-weight:bold;letter-spacing:0">1</div>
<div class="ln0"></div><div class="ln1"></div><div class="ln2"></div>
</div>
</div>
</body>
</html>
